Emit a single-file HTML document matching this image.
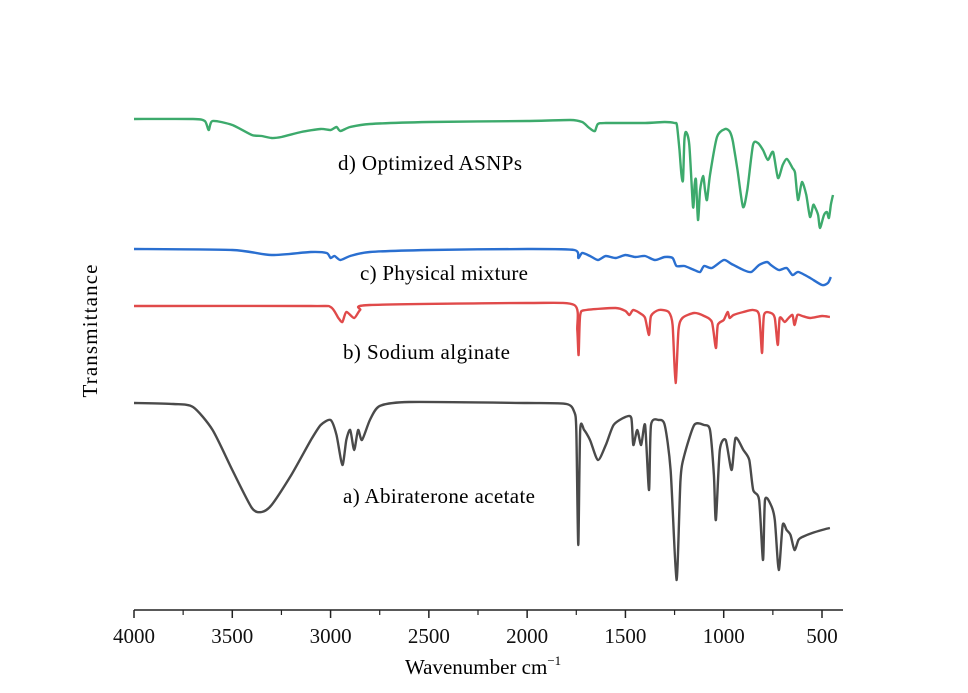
<!DOCTYPE html>
<html><head><meta charset="utf-8">
<style>
html,body{margin:0;padding:0;background:#fff;}
svg{display:block;font-family:"Liberation Serif",serif;}
</style></head>
<body>
<svg id="chart" width="968" height="693" viewBox="0 0 968 693" xmlns="http://www.w3.org/2000/svg">
<g id="axis"></g>
<g id="series"></g>
<text x="338" y="170" font-size="21" textLength="184">d) Optimized ASNPs</text>
<text x="360" y="280" font-size="21" textLength="168">c) Physical mixture</text>
<text x="343" y="359" font-size="21" textLength="167">b) Sodium alginate</text>
<text x="343" y="503" font-size="21" textLength="192">a) Abiraterone acetate</text>
<text x="405" y="674" font-size="21">Wavenumber cm<tspan dy="-9" font-size="13">−1</tspan></text>
<text transform="translate(97,331) rotate(-90)" text-anchor="middle" font-size="21" textLength="133">Transmittance</text>
</svg>
<script>
const xTicks = [4000,3500,3000,2500,2000,1500,1000,500];
const minorTicks = [3750,3250,2750,2250,1750,1250,750];

const grayWn = [4000,3800,3700,3600,3500,3400,3350,3300,3200,3100,3050,3000,2970,2940,2920,2900,2880,2860,2840,2800,2750,2600,2000,1800,1760,1750,1740,1730,1710,1680,1640,1600,1560,1500,1470,1460,1440,1420,1400,1380,1370,1330,1300,1270,1240,1220,1200,1150,1100,1070,1050,1040,1020,990,960,940,900,870,850,820,800,790,760,740,720,700,680,660,640,620,600,550,500,460];
const grayT = [207,206,203,180,140,102,98,105,135,170,185,190,175,145,170,180,160,180,170,190,204,208,207,206,198,180,65,180,180,170,150,165,185,193,192,165,180,165,185,120,185,190,185,140,30,130,155,185,185,180,135,90,160,170,140,172,160,150,120,110,50,110,105,90,40,85,80,75,60,70,73,77,80,82];

const redWn = [4000,3100,3000,2960,2940,2920,2880,2850,2800,2000,1760,1745,1738,1730,1700,1550,1500,1480,1460,1420,1400,1380,1370,1330,1280,1260,1245,1230,1210,1150,1100,1060,1040,1030,1000,980,970,950,900,850,820,805,795,760,740,725,715,690,670,650,640,625,600,560,500,460];
const redT = [304,304,303,292,288,298,292,300,305,307,305,280,255,295,300,302,299,295,300,296,292,275,294,300,298,285,227,280,292,297,294,288,262,285,290,298,292,295,298,300,295,257,295,297,292,265,292,288,292,295,285,295,294,292,294,293];

const blueWn = [4000,3500,3300,3100,3020,3000,2980,2950,2900,2800,2500,2000,1760,1740,1720,1680,1640,1600,1550,1500,1450,1400,1350,1300,1260,1240,1200,1150,1120,1100,1060,1000,960,900,860,820,780,760,720,680,650,620,560,500,470,455];
const blueT = [361,360,355,358,357,352,354,350,354,358,360,361,360,352,357,354,350,354,352,355,353,354,350,353,352,344,344,340,338,344,342,350,346,340,338,345,348,345,340,342,335,338,332,325,327,333];

const greenWn = [4000,3700,3640,3620,3600,3500,3400,3350,3300,3250,3150,3050,3000,2970,2950,2900,2800,2500,2000,1780,1720,1690,1670,1655,1640,1600,1400,1300,1250,1238,1225,1215,1207,1200,1192,1175,1156,1148,1141,1131,1120,1105,1095,1085,1070,1034,993,968,953,930,902,880,851,826,800,775,749,724,700,678,650,637,622,602,580,561,545,536,520,510,490,475,465,455,444];
const greenT = [491,491,489,480,489,485,475,474,472,473,478,481,480,483,479,483,486,488,489,490,488,483,480,479,486,487,487,488,487,485,460,435,430,470,478,465,403,425,430,390,420,434,420,410,435,473,481,478,468,440,403,420,465,467,460,450,458,432,445,451,442,437,410,428,415,393,405,403,395,382,395,398,392,405,415];

const NS = "http://www.w3.org/2000/svg";
const x = wn => 134 + (4000 - wn) * (688 / 3500);
const y = t => 610 - t;

const ax = document.getElementById('axis');
function mk(tag, attrs, parent){ const e=document.createElementNS(NS,tag); for(const k in attrs) e.setAttribute(k,attrs[k]); parent.appendChild(e); return e; }

const axLine = mk('line',{x1:134,y1:610,x2:843,y2:610,stroke:'#222','stroke-width':1.5},ax);


xTicks.forEach(v=>{
  const t = mk('line',{x1:x(v),y1:610,x2:x(v),y2:618,stroke:'#222','stroke-width':1.5},ax);
  
  
  const l = mk('text',{x:x(v),y:643,'text-anchor':'middle','font-size':21,fill:'#111'},ax);
  l.textContent = v;
  
  
});
minorTicks.forEach(v=>{
  const t = mk('line',{x1:x(v),y1:610,x2:x(v),y2:615,stroke:'#222','stroke-width':1.2},ax);
  
  
});

const sg = document.getElementById('series');
function drawSeries(wn, T, color, name){
  const pts = wn.map((w,i)=>[x(w), y(T[i])]);
  let d = 'M'+pts[0][0].toFixed(1)+','+pts[0][1].toFixed(1);
  for(let i=0;i<pts.length-1;i++){
    const p0=pts[i-1]||pts[i], p1=pts[i], p2=pts[i+1], p3=pts[i+2]||p2;
    const k=0.12;
    const c1=[p1[0]+(p2[0]-p0[0])*k, p1[1]+(p2[1]-p0[1])*k];
    const c2=[p2[0]-(p3[0]-p1[0])*k, p2[1]-(p3[1]-p1[1])*k];
    d += 'C'+c1[0].toFixed(1)+','+c1[1].toFixed(1)+' '+c2[0].toFixed(1)+','+c2[1].toFixed(1)+' '+p2[0].toFixed(1)+','+p2[1].toFixed(1);
  }
  const p = mk('path',{d:d,fill:'none',stroke:color,'stroke-width':2.4,'stroke-linejoin':'round'},sg);
  
  
}
drawSeries(grayWn, grayT, '#4a4a4a', 'series-abiraterone-acetate');
drawSeries(redWn, redT, '#e04a4a', 'series-sodium-alginate');
drawSeries(blueWn, blueT, '#2a6fd0', 'series-physical-mixture');
drawSeries(greenWn, greenT, '#3daa6c', 'series-optimized-asnps');
</script>
</body></html>
